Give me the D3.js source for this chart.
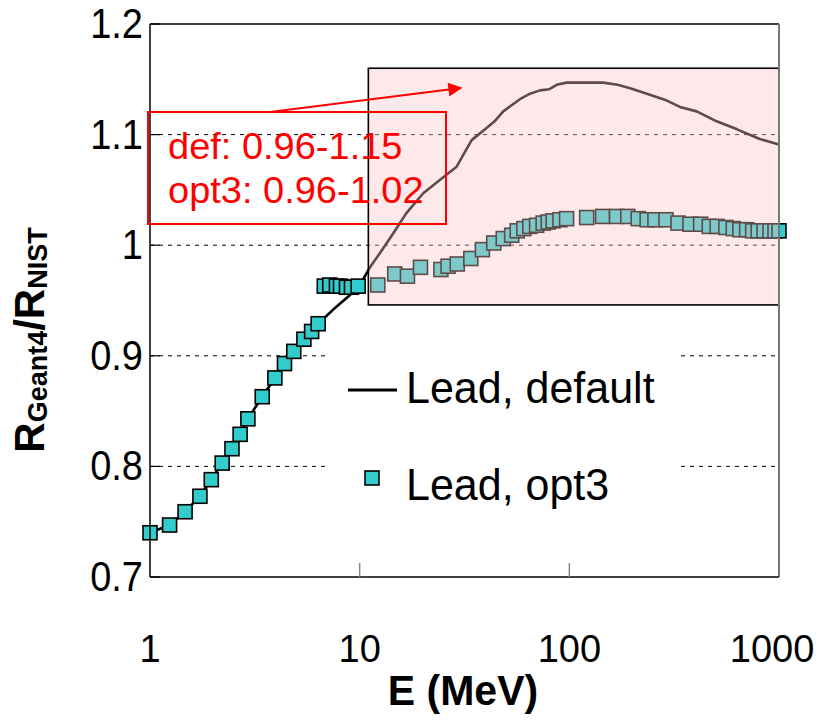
<!DOCTYPE html>
<html><head><meta charset="utf-8">
<script src="https://cdn.jsdelivr.net/npm/d3@7"></script>
<style>body{margin:0;background:#fff}svg{display:block}text{font-family:"Liberation Sans",Arial,sans-serif}</style>
</head><body><svg id="c" width="827" height="724"></svg>
<script>
// ---- data ----
const yTicks = [0.7, 0.8, 0.9, 1.0, 1.1, 1.2];
const yTickLabels = ["0.7", "0.8", "0.9", "1", "1.1", "1.2"];
const xTicks = [1, 10, 100, 1000];
const xTickLabels = ["1", "10", "100", "1000"];
const gridValues = [0.8, 0.9, 1.0, 1.1];

const defaultE = [1,1.24,1.47,1.73,1.96,2.21,2.46,2.69,2.93,3.43,3.94,4.38,4.85,5.42,5.9,6.34,7.5,9.0,10.3,11.2,12.5,14.5,16.7,20.1,24.1,29,34.2,40.3,44,48.4,58.1,65,72.4,80,87,97,120,145,170,195,242,290,337,405,504,627,809,1000];
const defaultR = [0.740,0.747,0.759,0.773,0.788,0.803,0.816,0.829,0.843,0.863,0.880,0.893,0.904,0.915,0.922,0.929,0.942,0.955,0.968,0.980,0.993,1.011,1.029,1.047,1.059,1.071,1.095,1.106,1.112,1.121,1.132,1.137,1.140,1.141,1.145,1.147,1.147,1.147,1.145,1.142,1.136,1.131,1.125,1.121,1.112,1.105,1.096,1.091];

const opt3E = [1,1.24,1.47,1.73,1.96,2.21,2.46,2.69,2.93,3.43,3.94,4.38,4.85,5.42,5.9,6.34,6.78,7.2,7.75,8.1,8.65,9.14,9.84,12.2,14.7,16.9,19.5,24.4,26.4,29.2,33.9,38.5,43.6,48.4,53.1,56.4,60.7,64.8,69.8,75,79.3,83.7,90.2,97,121,144,168,190,213,235,256,289,330,376,423,465,507,558,605,651,701,749,796,848,906,957,1000];
const opt3R = [0.740,0.747,0.759,0.773,0.788,0.803,0.816,0.829,0.843,0.863,0.880,0.893,0.904,0.915,0.922,0.929,0.963,0.964,0.963,0.963,0.962,0.962,0.963,0.964,0.974,0.972,0.980,0.978,0.981,0.983,0.988,0.996,1.002,1.006,1.009,1.013,1.015,1.017,1.018,1.020,1.021,1.022,1.023,1.024,1.025,1.026,1.026,1.026,1.024,1.023,1.023,1.023,1.020,1.019,1.019,1.017,1.017,1.016,1.015,1.014,1.014,1.013,1.013,1.013,1.013,1.013,1.013];

const legendLabels = ["Lead, default", "Lead, opt3"];
const noteLines = ["def: 0.96-1.15", "opt3: 0.96-1.02"];
const highlightE = [11, 1000];      // shaded region (energy)
const highlightR = [0.946, 1.160];   // shaded region (ratio)

// ---- chart ----
const svg = d3.select("#c");
const L = 150, R = 779, T = 24, B = 577;
const x = d3.scaleLog().domain([1, 1000]).range([L, R]);
const y = d3.scaleLinear().domain([0.7, 1.2]).range([B, T]);

// gridlines
svg.append("g").selectAll("line").data(gridValues).join("line")
  .attr("x1", L).attr("x2", R).attr("y1", d => y(d)).attr("y2", d => y(d))
  .attr("stroke", "#000").attr("stroke-width", 1).attr("stroke-dasharray", "4,5");

// legend background
svg.append("rect").attr("x", 325).attr("y", 345).attr("width", 352).attr("height", 165).attr("fill", "#fff");

// default line
svg.append("path").datum(defaultE.map((e, i) => [e, defaultR[i]]))
  .attr("d", d3.line().x(d => x(d[0])).y(d => y(d[1])))
  .attr("fill", "none").attr("stroke", "#000").attr("stroke-width", 2.6).attr("stroke-linejoin", "round");

// opt3 squares
const S = 14;
svg.append("g").selectAll("rect").data(opt3E.map((e, i) => [e, opt3R[i]])).join("rect")
  .attr("x", d => x(d[0]) - S / 2).attr("y", d => y(d[1]) - S / 2)
  .attr("width", S).attr("height", S)
  .attr("fill", "#33cccc").attr("stroke", "#000").attr("stroke-width", 1.6);

// shaded highlight box
svg.append("rect")
  .attr("x", x(highlightE[0])).attr("y", y(highlightR[1]))
  .attr("width", x(highlightE[1]) - x(highlightE[0])).attr("height", y(highlightR[0]) - y(highlightR[1]))
  .attr("fill", "rgb(249,196,196)").attr("fill-opacity", 0.38)
  .attr("stroke", "#000").attr("stroke-width", 1.6);

// frame
svg.append("line").attr("x1", L).attr("x2", R).attr("y1", T).attr("y2", T).attr("stroke", "#000").attr("stroke-width", 1.5);
svg.append("line").attr("x1", R).attr("x2", R).attr("y1", T).attr("y2", B).attr("stroke", "#777").attr("stroke-width", 2);
svg.append("line").attr("x1", L).attr("x2", R).attr("y1", B).attr("y2", B).attr("stroke", "#000").attr("stroke-width", 1.5);
svg.append("line").attr("x1", L).attr("x2", L).attr("y1", T).attr("y2", B).attr("stroke", "#000").attr("stroke-width", 1.5);

// ticks (inward)
svg.append("g").selectAll("line").data(yTicks).join("line")
  .attr("x1", L).attr("x2", L + 10).attr("y1", d => y(d)).attr("y2", d => y(d))
  .attr("stroke", "#000").attr("stroke-width", 1.2);
svg.append("g").selectAll("line").data(xTicks.slice(1, -1)).join("line")
  .attr("x1", d => x(d)).attr("x2", d => x(d)).attr("y1", B).attr("y2", B - 14)
  .attr("stroke", "#888").attr("stroke-width", 1.5);

// tick labels
svg.append("g").selectAll("text").data(yTicks).join("text")
  .attr("transform", d => `translate(143,${y(d) + 14}) scale(1,1.1)`)
  .attr("text-anchor", "end").attr("font-size", 38).attr("fill", "#000")
  .text((d, i) => yTickLabels[i]);
svg.append("g").selectAll("text").data(xTicks).join("text")
  .attr("transform", (d, i) => `translate(${x(d) - (i === xTicks.length - 1 ? 7 : 0)},662) scale(1,1.03)`)
  .attr("text-anchor", "middle").attr("font-size", 38).attr("fill", "#000")
  .text((d, i) => xTickLabels[i]);

// axis titles
svg.append("text").attr("transform", "translate(463,705) scale(1,1.05)")
  .attr("text-anchor", "middle").attr("font-size", 41).attr("font-weight", "bold").text("E (MeV)");
const yl = svg.append("text").attr("transform", "translate(44,340) rotate(-90)")
  .attr("text-anchor", "middle").attr("font-weight", "bold").attr("font-size", 42);
yl.append("tspan").text("R");
yl.append("tspan").attr("font-size", 27).attr("dy", 3).text("Geant4");
yl.append("tspan").attr("dy", -3).text("/R");
yl.append("tspan").attr("font-size", 27).attr("dy", 3).text("NIST");

// legend
svg.append("line").attr("x1", 348).attr("x2", 397).attr("y1", 390).attr("y2", 390)
  .attr("stroke", "#000").attr("stroke-width", 3);
svg.append("rect").attr("x", 365).attr("y", 471).attr("width", 14).attr("height", 14)
  .attr("fill", "#33cccc").attr("stroke", "#000").attr("stroke-width", 1.6);
svg.append("g").selectAll("text").data(legendLabels).join("text")
  .attr("transform", (d, i) => `translate(406,${403 + i * 97}) scale(1,1.05)`)
  .attr("font-size", 43).attr("fill", "#000").text(d => d);

// red annotation
svg.append("rect").attr("x", 148).attr("y", 112).attr("width", 298).attr("height", 112)
  .attr("fill", "none").attr("stroke", "#ff0000").attr("stroke-width", 2);
svg.append("g").selectAll("text").data(noteLines).join("text")
  .attr("transform", (d, i) => `translate(168,${159 + i * 44}) scale(1,0.97)`)
  .attr("font-size", 38).attr("fill", "#ff0000").text(d => d);
svg.append("defs").append("marker").attr("id", "ah").attr("viewBox", "0 0 10 10")
  .attr("refX", 9).attr("refY", 5).attr("markerWidth", 8).attr("markerHeight", 7)
  .attr("markerUnits", "strokeWidth").attr("orient", "auto")
  .append("path").attr("d", "M0,0 L10,5 L0,10 Z").attr("fill", "#ff0000");
svg.append("line").attr("x1", 270).attr("y1", 112).attr("x2", 461).attr("y2", 88)
  .attr("stroke", "#ff0000").attr("stroke-width", 2).attr("marker-end", "url(#ah)");
</script></body></html>
